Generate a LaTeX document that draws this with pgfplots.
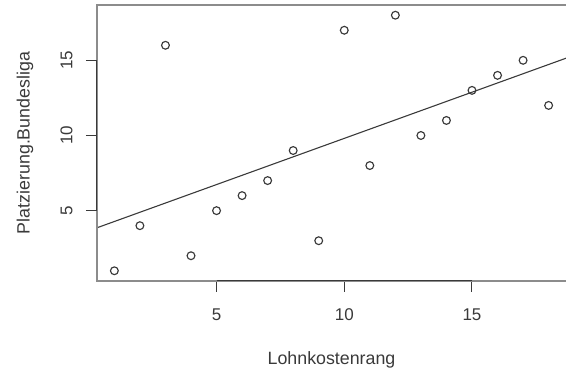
\documentclass[border=0pt]{standalone}
\usepackage{pgfplots}
\pgfplotsset{compat=1.18}
\usepackage{fontspec}
\setmainfont{Liberation Sans}
\definecolor{boxgray}{HTML}{8C8C8C}
\definecolor{ink}{HTML}{3A3A3A}
\begin{document}
\begin{tikzpicture}
\begin{axis}[
  scale only axis, width=469pt, height=276pt,
  xmin=0.32, xmax=18.68, ymin=0.32, ymax=18.68,
  axis line style={draw=none},
  xtick={5,10,15}, ytick={5,10,15},
  xtick pos=bottom, ytick pos=left, tick align=outside,
  major tick length=11pt,
  tick style={ink, line width=1pt},
  /pgf/number format/assume math mode=true,
  ticklabel style={font=\fontsize{17}{20}\selectfont, text=ink},
  xticklabel shift=13pt,
  yticklabel style={rotate=90, anchor=south},
  yticklabel shift=10pt,
  xlabel={Lohnkostenrang},
  ylabel={Platzierung.Bundesliga},
  label style={font=\fontsize{17.8}{20}\selectfont, text=ink},
  xlabel style={at={(axis description cs:0.5,-0.286)}, anchor=center},
  ylabel style={at={(axis description cs:-0.1535,0.5)}, anchor=center},
  clip=false,
]
\addplot[only marks, mark=o, mark size=3.9pt, mark options={ink, line width=1.15pt}] coordinates {
(1,1) (2,4) (3,16) (4,2) (5,5) (6,6) (7,7) (8,9) (9,3) (10,17) (11,8) (12,18) (13,10) (14,11) (15,13) (16,14) (17,15) (18,12)
};
\addplot[ink, line width=1.1pt] coordinates {(0.32,3.86) (18.68,15.14)};
\draw[boxgray, line width=1.6pt] (rel axis cs:1,1) -- (rel axis cs:0,1) -- (rel axis cs:0,0) -- (rel axis cs:1,0);
\draw[ink, line width=1pt] (axis cs:5,0.32) -- (axis cs:15,0.32);
\draw[ink, line width=1pt] (axis cs:0.32,5) -- (axis cs:0.32,15);
\end{axis}
\pgfresetboundingbox
\path[use as bounding box] ([xshift=-97pt,yshift=-93pt]current axis.south west) rectangle ([yshift=5pt]current axis.north east);
\end{tikzpicture}
\end{document}
